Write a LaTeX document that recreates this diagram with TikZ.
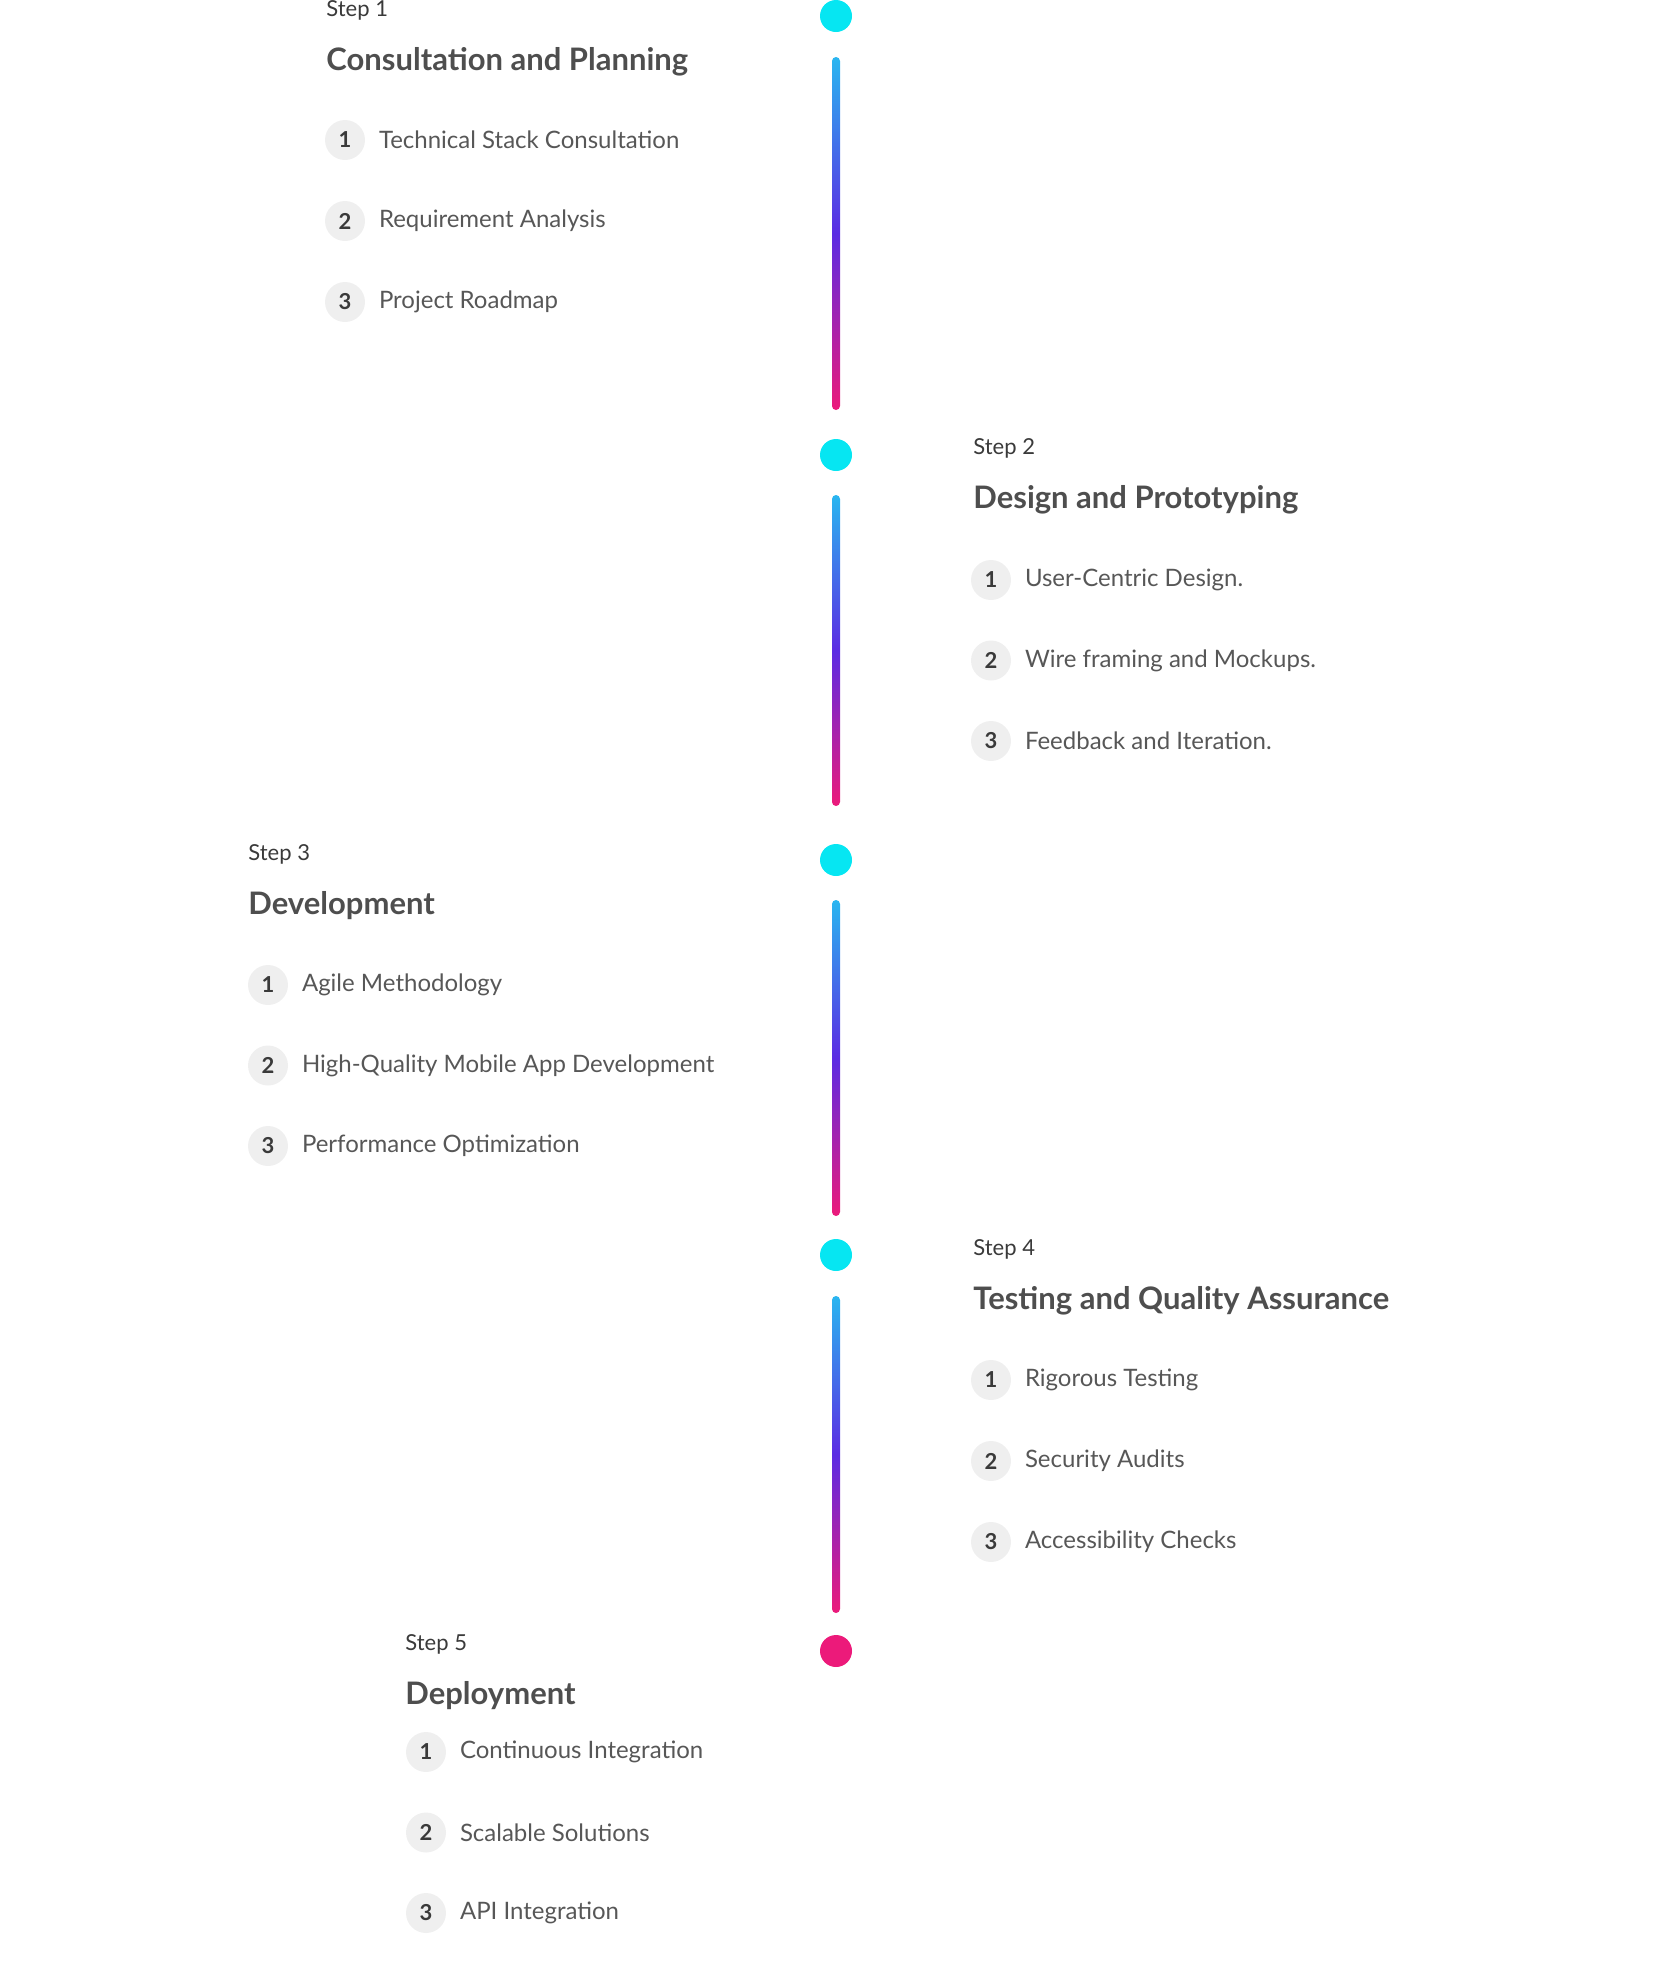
\documentclass[tikz,border=0pt]{standalone}
\usepackage{fontspec}
\setmainfont{Lato}
\usetikzlibrary{positioning}
\definecolor{dotcyan}{HTML}{06E6F2}
\definecolor{barblue}{HTML}{29B6F0}
\definecolor{barviolet}{HTML}{5B2BE3}
\definecolor{barpink}{HTML}{EC1A7A}
\definecolor{numbg}{HTML}{EFEFEF}
\definecolor{txt}{HTML}{3A3A3A}
\begin{document}
\begin{tikzpicture}[x=0.5pt,y=-0.5pt,
    steplbl/.style={anchor=west,inner sep=0pt,font=\fontsize{11}{13}\selectfont,text=txt},
    title/.style={anchor=west,inner sep=0pt,font=\fontsize{15.5}{18}\selectfont\bfseries,text=txt!90},
    num/.style={circle,fill=numbg,minimum size=20pt,inner sep=0pt,font=\fontsize{11}{12}\selectfont\bfseries,text=txt},
    item/.style={anchor=west,inner sep=0pt,font=\fontsize{12}{14}\selectfont,text=txt!85},
    dot/.style={circle,fill=dotcyan,minimum size=16pt,inner sep=0pt}]
  \useasboundingbox (0,0) rectangle (1680,1988);
  % timeline
  \foreach \y [count=\i] in {16,455,860,1255}
    \node[dot] (d\i) at (836,\y) {};
  \node[dot,fill=barpink] (d5) at (836,1651) {};
  \foreach \a/\b in {57/410,495/806,900/1216,1296/1613}
    \shade[top color=barblue,bottom color=barpink,middle color=barviolet,rounded corners=2pt]
      (832,\a) rectangle (840,\b);
  % step 1
  \node[steplbl] (s1) at (326,10) {Step 1};
  \node[title] (t1) at (326,62) {Consultation and Planning};
  \foreach \txt [count=\i] in {Technical Stack Consultation,Requirement Analysis,Project Roadmap}{
    \node[num] (a\i) at (345,{140+81*(\i-1)}) {\i};
    \node[item,right=27pt of a\i.west] {\txt};
  }
  % step 2
  \node[steplbl] (s2) at (973,448) {Step 2};
  \node[title] (t2) at (973,500) {Design and Prototyping};
  \foreach \txt [count=\i] in {User-Centric Design.,Wire framing and Mockups.,Feedback and Iteration.}{
    \node[num] (b\i) at (991,{580+80.5*(\i-1)}) {\i};
    \node[item,right=27pt of b\i.west] {\txt};
  }
  % step 3
  \node[steplbl] (s3) at (248,854) {Step 3};
  \node[title] (t3) at (248,906) {Development};
  \foreach \txt [count=\i] in {Agile Methodology,High-Quality Mobile App Development,Performance Optimization}{
    \node[num] (c\i) at (268,{985+80.5*(\i-1)}) {\i};
    \node[item,right=27pt of c\i.west] {\txt};
  }
  % step 4
  \node[steplbl] (s4) at (973,1249) {Step 4};
  \node[title] (t4) at (973,1301) {Testing and Quality Assurance};
  \foreach \txt [count=\i] in {Rigorous Testing,Security Audits,Accessibility Checks}{
    \node[num] (e\i) at (991,{1380+81*(\i-1)}) {\i};
    \node[item,right=27pt of e\i.west] {\txt};
  }
  % step 5
  \node[steplbl] (s5) at (405,1644) {Step 5};
  \node[title] (t5) at (405,1696) {Deployment};
  \foreach \txt [count=\i] in {Continuous Integration,Scalable Solutions,API Integration}{
    \node[num] (f\i) at (426,{1752+80.5*(\i-1)}) {\i};
    \node[item,right=27pt of f\i.west] {\txt};
  }
\end{tikzpicture}
\end{document}
